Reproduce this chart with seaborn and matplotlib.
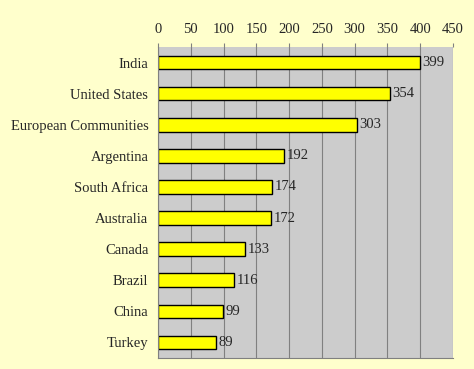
import matplotlib

matplotlib.use("Agg")
import matplotlib.pyplot as plt
import numpy as np
import pandas as pd
import seaborn as sns

COUNTRIES = [
    "India",
    "United States",
    "European Communities",
    "Argentina",
    "South Africa",
    "Australia",
    "Canada",
    "Brazil",
    "China",
    "Turkey",
]
COUNTS = [399, 354, 303, 192, 174, 172, 133, 116, 99, 89]
XTICKS = [0, 50, 100, 150, 200, 250, 300, 350, 400, 450]

BG = "#FFFFCC"
PLOT_BG = "#CCCCCC"


def main():
    sns.set_style("white")
    plt.rcParams["font.family"] = ["Liberation Serif", "DejaVu Serif"]

    df = pd.DataFrame({"country": COUNTRIES, "count": COUNTS})

    fig = plt.figure(figsize=(4.74, 3.69), dpi=100, facecolor=BG)
    ax = fig.add_axes([158 / 474, 11 / 369, 295 / 474, 311 / 369])
    ax.set_facecolor(PLOT_BG)

    sns.barplot(
        data=df, x="count", y="country", orient="h", color="#FFFF00",
        edgecolor="black", linewidth=1.0, width=0.44, saturation=1, ax=ax,
    )

    for i, v in enumerate(COUNTS):
        ax.text(v + 4, i, str(v), va="center", ha="left", fontsize=10.5)

    ax.set_xlim(0, 450)
    ax.set_xticks(XTICKS)
    ax.xaxis.tick_top()
    ax.tick_params(axis="x", length=3, color="#808080", labelsize=10.5, pad=5)
    ax.set_axisbelow(True)
    ax.grid(axis="x", color="#808080", linewidth=0.8)

    ax.set_ylim(len(COUNTRIES) - 0.5, -0.5)
    ax.set_yticks(np.arange(len(COUNTRIES)))
    ax.set_yticklabels(COUNTRIES, fontsize=10.5)
    ax.tick_params(axis="y", length=0, pad=7)
    # category separators on the left axis
    ax.set_yticks(np.arange(len(COUNTRIES) + 1) - 0.5, minor=True)
    ax.tick_params(axis="y", which="minor", length=4, color="#808080")

    ax.set_xlabel("")
    ax.set_ylabel("")
    for side in ["top", "right", "bottom", "left"]:
        ax.spines[side].set_color("#808080")
        ax.spines[side].set_linewidth(0.8)
    ax.spines["top"].set_visible(False)
    ax.spines["right"].set_visible(False)

    fig.savefig("out.png", dpi=100, facecolor=BG)


if __name__ == "__main__":
    main()
